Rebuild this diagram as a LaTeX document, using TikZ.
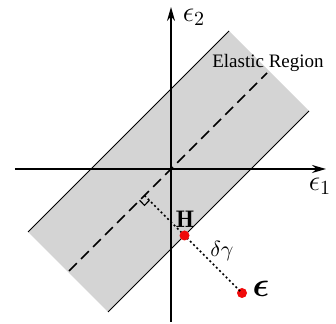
\documentclass[tikz,border=0pt]{standalone}
\usepackage{amsmath}
\usepackage{fontspec}
\newfontfamily\regionfont{Liberation Serif}
\usetikzlibrary{arrows.meta, positioning, calc}
\definecolor{bandgray}{RGB}{212,212,212}
\definecolor{ptred}{RGB}{240,10,10}
\tikzset{
  axis/.style={-{Stealth[length=7pt, width=4pt]}, line width=0.9pt},
  bandline/.style={line width=0.5pt},
  midline/.style={line width=0.75pt, dash pattern=on 5.5pt off 3pt},
  projline/.style={line width=0.8pt, dash pattern=on 1pt off 1.3pt},
  reddot/.style={circle, fill=ptred, inner sep=0pt, minimum size=5pt},
  axislabel/.style={font=\Large, inner sep=0pt}
}

\begin{document}
\begin{tikzpicture}[x=0.5pt, y=0.5pt]
  \useasboundingbox (-171,-155) rectangle (165,169);

  % elastic band
  \coordinate (bandl) at (-143,-63);
  \coordinate (bandt) at (58,138);
  \coordinate (bandr) at (138,58);
  \coordinate (bandb) at (-63,-143);
  \fill [bandgray] (bandl) -- (bandt) -- (bandr) -- (bandb) -- cycle;
  \draw [bandline] (bandl) -- (bandt);
  \draw [bandline] (bandb) -- (bandr);

  \coordinate (mida) at (-102,-102);
  \coordinate (midb) at (96,96);
  \draw [midline] (mida) -- (midb);

  % axes
  \coordinate (xs) at (-156,0);
  \coordinate (xe) at (155,0);
  \coordinate (ys) at (0,-153);
  \coordinate (ye) at (0,162);
  \draw [axis] (xs) -- (xe);
  \draw [axis] (ys) -- (ye);
  \node [axislabel] (eps2) at (23,152) {$\epsilon_2$};
  \node [axislabel] (eps1) at (149,-17) {$\epsilon_1$};

  \node [font=\regionfont\fontsize{9.5}{11}\selectfont] (region) at (97,106) {Elastic Region};

  % projection
  \coordinate (foot) at (-26.5,-26.5);
  \coordinate (sqa) at (-21.6,-31.4);
  \coordinate (sqc) at (-26.5,-36.4);
  \coordinate (sqb) at (-31.4,-31.4);
  \node [reddot] (trial) at (71,-124) {};
  \draw [projline] (foot) -- (trial.center);
  \draw [line width=0.6pt] (sqa) -- (sqc) -- (sqb);
  \node [reddot] (hpt) at (13.5,-66.5) {};

  \node [font=\fontsize{12}{13}\selectfont] (hlab) at (14,-50) {$\mathbf{H}$};
  \node [font=\fontsize{10.5}{12}\selectfont] (dg) at (51,-82) {$\delta\gamma$};
  \node [font=\fontsize{19}{20}\selectfont] (elab) at (90,-120) {$\boldsymbol{\epsilon}$};
\end{tikzpicture}
\end{document}
